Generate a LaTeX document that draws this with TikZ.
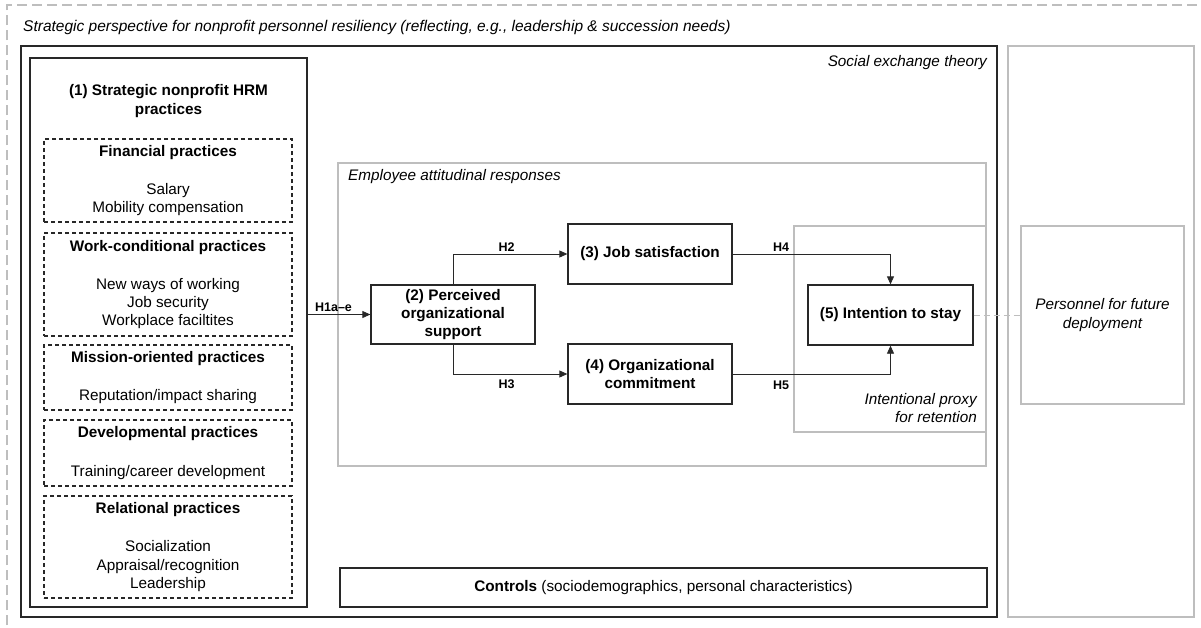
\documentclass[tikz,border=0pt]{standalone}
\usepackage{fontspec}
\setmainfont{Liberation Sans}
\usetikzlibrary{arrows.meta}
\definecolor{lgray}{RGB}{190,190,190}
\definecolor{dgray}{RGB}{40,40,40}
\newcommand{\mainfs}{\fontsize{15.3}{18.3}\selectfont}
\newcommand{\labfs}{\fontsize{12.5}{14}\selectfont\bfseries}
\tikzset{
  blackbox/.style={draw=dgray, line width=1.3pt, inner sep=0pt, align=center, font=\mainfs\bfseries},
  framebox/.style={draw=dgray, line width=1.6pt, inner sep=0pt},
  graybox/.style={draw=lgray, line width=1.8pt, inner sep=0pt, align=center},
  subbox/.style={draw=dgray, line width=1.1pt, dash pattern=on 4pt off 3pt, inner sep=0pt,
     minimum width=248pt, align=center, font=\mainfs},
  conn/.style={draw=dgray, line width=0.8pt, -{Triangle[length=8pt,width=7pt]}},
  hlab/.style={font=\labfs, inner sep=0pt},
  itlab/.style={font=\mainfs\itshape, inner sep=0pt},
}
\begin{document}
\begin{tikzpicture}[x=1pt,y=-1pt,font=\mainfs]
\clip (0,0) rectangle (1201,627);
\fill[white] (0,0) rectangle (1201,627);
% outer dashed frame
\draw[lgray, line width=1.8pt, dash pattern=on 10pt off 5pt] (7,640) -- (7,5) -- (1215,5);
\node[itlab, anchor=west, font=\fontsize{15.5}{18.3}\selectfont\itshape] (cap) at (23,27) {Strategic perspective for nonprofit personnel resiliency (reflecting, e.g., leadership \& succession needs)};
% main frames
\node[framebox, minimum width=976pt, minimum height=571pt] (frame) at (509,331.5) {};
\node[graybox, minimum width=186pt, minimum height=571pt] (rcol) at (1101,331.5) {};
\node[itlab, anchor=east] (set) at (987,63) {Social exchange theory};
% HRM column
\node[framebox, minimum width=277pt, minimum height=549pt] (hrm) at (168.5,332.5) {};
\node[font=\mainfs\bfseries, align=center, inner sep=0pt] (hrmt) at (168.5,101) {(1) Strategic nonprofit HRM\\practices};
\node[subbox, minimum height=83pt] (fin) at (168,180.5) {\textbf{Financial practices}\\[20pt]Salary\\Mobility compensation};
\node[subbox, minimum height=103pt] (work) at (168,284.5) {\textbf{Work-conditional practices}\\[20pt]New ways of working\\Job security\\Workplace faciltites};
\node[subbox, minimum height=65pt] (miss) at (168,377.5) {\textbf{Mission-oriented practices}\\[20pt]Reputation/impact sharing};
\node[subbox, minimum height=66pt] (dev) at (168,453) {\textbf{Developmental practices}\\[20pt]Training/career development};
\node[subbox, minimum height=102pt] (rel) at (168,547) {\textbf{Relational practices}\\[20pt]Socialization\\Appraisal/recognition\\Leadership};
% attitudinal responses
\node[graybox, minimum width=648pt, minimum height=303pt] (ear) at (662,314.5) {};
\node[itlab, anchor=west] (eart) at (348,177) {Employee attitudinal responses};
\node[graybox, minimum width=192pt, minimum height=206pt] (proxy) at (890,329) {};
\node[itlab, anchor=east, align=right] (proxyt) at (977,408) {Intentional proxy\\for retention};
% constructs
\node[blackbox, minimum width=164pt, minimum height=59pt] (pos) at (453,314.5) {(2) Perceived\\organizational\\support};
\node[blackbox, minimum width=164pt, minimum height=60pt] (js) at (650,254) {(3) Job satisfaction};
\node[blackbox, minimum width=164pt, minimum height=60pt] (oc) at (650,374) {(4) Organizational\\commitment};
\node[blackbox, minimum width=165pt, minimum height=60pt] (its) at (890.5,315) {(5) Intention to stay};
\node[graybox, minimum width=163pt, minimum height=178pt, font=\mainfs\itshape] (pers) at (1102.5,315) {Personnel for future\\deployment};
\node[draw=dgray, line width=1.3pt, minimum width=647pt, minimum height=39pt, inner sep=0pt] (ctrl) at (663.5,587.5) {\textbf{Controls} (sociodemographics, personal characteristics)};
% connectors
\draw[conn] (pos.west -| hrm.east) -- (pos.west);
\draw[conn] (pos.north) |- (js.west);
\draw[conn] (pos.south) |- (oc.west);
\draw[conn] (js.east) -| (its.north);
\draw[conn] (oc.east) -| (its.south);
\draw[lgray, line width=1pt, dash pattern=on 6pt off 4pt] (its.east) -- (pers.west);
% hypothesis labels
\node[hlab] (h1) at (333.5,307) {H1a–e};
\node[hlab] (h2) at (506.5,247) {H2};
\node[hlab] (h3) at (506.5,384) {H3};
\node[hlab] (h4) at (781,247.5) {H4};
\node[hlab] (h5) at (781,385) {H5};
\end{tikzpicture}
\end{document}
